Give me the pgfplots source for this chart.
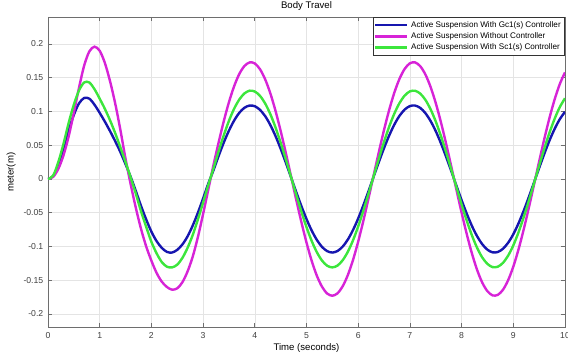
\documentclass[border=0pt]{standalone}
\usepackage{pgfplots}
\usepackage{pgfplotstable}
\pgfplotsset{compat=1.18}
\usepackage{fontspec}
\setmainfont{Liberation Sans}
\definecolor{cB}{RGB}{22,22,175}
\definecolor{cM}{RGB}{215,35,215}
\definecolor{cG}{RGB}{60,230,60}
\definecolor{gridc}{RGB}{228,228,228}
\definecolor{axc}{RGB}{110,110,110}
\pgfplotstableread{
t B G M
0 0 0 0
0.1 0.004 0.005 0.003
0.2 0.020 0.025 0.015
0.3 0.045 0.052 0.035
0.4 0.072 0.083 0.063
0.5 0.095 0.110 0.098
0.6 0.112 0.131 0.135
0.7 0.120 0.143 0.168
0.8 0.119 0.143 0.189
0.9 0.110 0.133 0.196
1.0 0.098 0.119 0.190
1.1 0.085 0.104 0.172
1.2 0.071 0.087 0.145
1.3 0.056 0.068 0.112
1.4 0.040 0.047 0.073
1.5 0.022 0.025 0.030
1.6 0.003 0.002 -0.008
1.7 -0.018 -0.022 -0.043
1.8 -0.040 -0.048 -0.074
1.9 -0.060 -0.071 -0.100
2.0 -0.078 -0.093 -0.121
2.1 -0.092 -0.110 -0.139
2.2 -0.102 -0.123 -0.152
2.3 -0.108 -0.130 -0.160
2.4 -0.109 -0.131 -0.164
2.5 -0.105 -0.127 -0.162
2.6 -0.097 -0.117 -0.153
2.7 -0.085 -0.102 -0.137
2.8 -0.069 -0.083 -0.115
2.9 -0.050 -0.060 -0.086
3.0 -0.029 -0.035 -0.052
3.1 -0.007 -0.009 -0.016
3.2 0.0127 0.0153 0.0202
3.3 0.0340 0.0408 0.0539
3.4 0.0539 0.0647 0.0855
3.5 0.0716 0.0861 0.1137
3.6 0.0865 0.1040 0.1373
3.7 0.0980 0.1177 0.1555
3.8 0.1055 0.1268 0.1674
3.9 0.1088 0.1308 0.1727
4.0 0.1078 0.1296 0.1712
4.1 0.1025 0.1232 0.1627
4.2 0.0932 0.1120 0.1478
4.3 0.0801 0.0962 0.1271
4.4 0.0638 0.0766 0.1012
4.5 0.0449 0.0540 0.0713
4.6 0.0243 0.0292 0.0386
4.7 0.0027 0.0032 0.0043
4.8 -0.0190 -0.0228 -0.0302
4.9 -0.0399 -0.0480 -0.0634
5.0 -0.0593 -0.0713 -0.0941
5.1 -0.0763 -0.0917 -0.1211
5.2 -0.0902 -0.1084 -0.1432
5.3 -0.1006 -0.1209 -0.1596
5.4 -0.1069 -0.1285 -0.1697
5.5 -0.1090 -0.1310 -0.1730
5.6 -0.1067 -0.1283 -0.1694
5.7 -0.1002 -0.1204 -0.1590
5.8 -0.0897 -0.1078 -0.1423
5.9 -0.0756 -0.0909 -0.1200
6.0 -0.0585 -0.0703 -0.0928
6.1 -0.0390 -0.0469 -0.0620
6.2 -0.0181 -0.0217 -0.0286
6.3 0.0037 0.0044 0.0058
6.4 0.0252 0.0303 0.0400
6.5 0.0458 0.0550 0.0727
6.6 0.0645 0.0776 0.1024
6.7 0.0807 0.0970 0.1281
6.8 0.0937 0.1126 0.1486
6.9 0.1029 0.1236 0.1632
7.0 0.1080 0.1298 0.1714
7.1 0.1088 0.1307 0.1727
7.2 0.1053 0.1265 0.1671
7.3 0.0975 0.1172 0.1548
7.4 0.0859 0.1033 0.1364
7.5 0.0709 0.0852 0.1125
7.6 0.0530 0.0637 0.0842
7.7 0.0330 0.0397 0.0524
7.8 0.0118 0.0141 0.0186
7.9 -0.0100 -0.0120 -0.0159
8.0 -0.0314 -0.0377 -0.0498
8.1 -0.0515 -0.0619 -0.0817
8.2 -0.0696 -0.0836 -0.1104
8.3 -0.0848 -0.1020 -0.1347
8.4 -0.0967 -0.1163 -0.1536
8.5 -0.1048 -0.1259 -0.1663
8.6 -0.1087 -0.1306 -0.1725
8.7 -0.1082 -0.1300 -0.1717
8.8 -0.1034 -0.1243 -0.1642
8.9 -0.0945 -0.1136 -0.1500
9.0 -0.0819 -0.0984 -0.1299
9.1 -0.0659 -0.0792 -0.1046
9.2 -0.0474 -0.0569 -0.0752
9.3 -0.0269 -0.0324 -0.0427
9.4 -0.0054 -0.0065 -0.0086
9.5 0.0163 0.0196 0.0259
9.6 0.0374 0.0450 0.0594
9.7 0.0570 0.0685 0.0905
9.8 0.0743 0.0893 0.1180
9.9 0.0887 0.1066 0.1408
10.0 0.0995 0.1196 0.1579
}\data
\begin{document}
\begin{tikzpicture}
\begin{axis}[
  name=ax,
  scale only axis,
  width=388pt, height=233pt,
  xmin=0, xmax=10, ymin=-0.22, ymax=0.24,
  xtick={0,1,...,10},
  ytick={-0.2,-0.15,-0.1,-0.05,0,0.05,0.1,0.15,0.2},
  /pgf/number format/assume math mode=true,
  yticklabel style={/pgf/number format/fixed},
  tick label style={font=\fontsize{6.5}{7.5}\selectfont, text=black!75},
  label style={font=\fontsize{7.2}{8.5}\selectfont},
  title style={font=\fontsize{7.2}{8.5}\selectfont, yshift=-5pt},
  title={Body Travel},
  xlabel={Time (seconds)},
  ylabel={meter(m)},
  xlabel style={yshift=3pt},
  ylabel style={yshift=-1pt},
  grid=major,
  major grid style={gridc, line width=0.4pt},
  axis line style={axc, line width=0.6pt},
  tick style={axc, line width=0.5pt},
  tick align=inside,
  major tick length=3pt,
  legend style={at={(1,1)}, anchor=north east, font=\fontsize{6.1}{6.8}\selectfont,
    draw=black!80, line width=0.4pt, fill=white, inner sep=1pt, row sep=-1.5pt,
    cells={anchor=west}},
  legend image code/.code={\draw[#1, line width=1.8pt] (0pt,0pt) -- (24pt,0pt);},
  every axis plot/.append style={line width=1.8pt, smooth, tension=0.5},
]
\addplot[cB] table[x=t, y=B] {\data};
\addlegendentry{Active Suspension With Gc1(s) Controller}
\addplot[cM] table[x=t, y=M] {\data};
\addlegendentry{Active Suspension Without Controller}
\addplot[cG] table[x=t, y=G] {\data};
\addlegendentry{Active Suspension With Sc1(s) Controller}
\end{axis}
\pgfresetboundingbox
\useasboundingbox ([shift={(-36pt,-21pt)}]ax.south west) rectangle ([shift={(2.25pt,12.75pt)}]ax.north east);
\end{tikzpicture}
\end{document}
